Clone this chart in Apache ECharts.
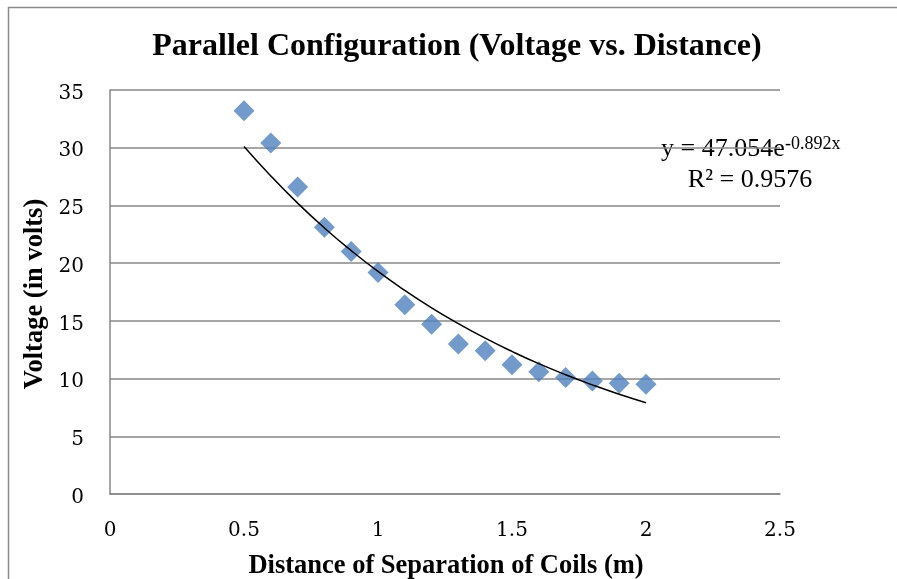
<!DOCTYPE html>
<html>
<head>
<meta charset="utf-8">
<script src="https://cdn.jsdelivr.net/npm/echarts@6/dist/echarts.min.js"></script>
<style>html,body{margin:0;padding:0;background:#fff;}#c{width:897px;height:579px;}</style>
</head>
<body>
<div id="c"></div>
<script>
// Measured data (distance m, voltage V)
var distances = [0.5,0.6,0.7,0.8,0.9,1.0,1.1,1.2,1.3,1.4,1.5,1.6,1.7,1.8,1.9,2.0];
var voltages  = [33.2,30.4,26.6,23.1,21.0,19.2,16.4,14.7,13.0,12.4,11.2,10.6,10.1,9.8,9.6,9.5];
// Trendline values (exponential fit curve)
var trendX = [0.5,0.6,0.7,0.8,0.9,1.0,1.1,1.2,1.3,1.4,1.5,1.6,1.7,1.8,1.9,2.0];
var trendY = [30.1,27.55,25.2,23.05,21.09,19.28,17.64,16.13,14.76,13.5,12.35,11.29,10.33,9.45,8.64,7.91];
var xTicks = [0,0.5,1,1.5,2,2.5];
var yTicks = [0,5,10,15,20,25,30,35];
var titleText = 'Parallel Configuration (Voltage vs. Distance)';
var xName = 'Distance of Separation of Coils (m)';
var yName = 'Voltage (in volts)';
var eqMain = 'y = 47.054e';
var eqSup = '-0.892x';
var r2Text = 'R² = 0.9576';

var serif = '"Liberation Serif","Times New Roman",serif';
var tickFont = '"DejaVu Serif",serif';
var gridColor = '#878787';
var chart = echarts.init(document.getElementById('c'));
chart.setOption({
  animation: false,
  backgroundColor: '#fff',
  grid: {left: 110, top: 90, right: 117, bottom: 85, containLabel: false},
  xAxis: {
    type: 'value', min: xTicks[0], max: xTicks[xTicks.length-1], interval: 0.5,
    axisLine: {show: true, lineStyle: {color: gridColor, width: 1.5}},
    axisTick: {show: false},
    splitLine: {show: false},
    axisLabel: {fontFamily: tickFont, fontSize: 20, color: '#000', margin: 27,
      formatter: function(v){ return String(v); }}
  },
  yAxis: {
    type: 'value', min: yTicks[0], max: yTicks[yTicks.length-1], interval: 5,
    axisLine: {show: true, lineStyle: {color: gridColor, width: 1.5}},
    axisTick: {show: false},
    splitLine: {show: true, lineStyle: {color: gridColor, width: 1.5}},
    axisLabel: {color: '#000', margin: 26,
      formatter: function(v){ return '{t|' + v + '}'; },
      rich: {t: {fontFamily: tickFont, fontSize: 20, color: '#000', padding: [7, 0, 0, 0]}}}
  },
  series: [
    {
      type: 'scatter', symbol: 'diamond', symbolSize: 21,
      itemStyle: {color: '#4F81BD'},
      data: distances.map(function(d,i){ return [d, voltages[i]]; }),
      z: 3
    },
    {
      type: 'line', smooth: true, showSymbol: false, symbol: 'none',
      lineStyle: {color: '#000', width: 1.5},
      data: trendX.map(function(d,i){ return [d, trendY[i]]; }),
      z: 4
    }
  ],
  graphic: [
    {type: 'rect', shape: {x: 8.5, y: 7.5, width: 1000, height: 1000},
     style: {fill: 'none', stroke: '#8a8a8a', lineWidth: 1.5}, silent: true, z: 0},
    {type: 'text', x: 457, y: 47, style: {text: titleText, font: 'bold 32px ' + serif, fill: '#000', align: 'center', verticalAlign: 'middle'}},
    {type: 'text', x: 446, y: 566, style: {text: xName, font: 'bold 26.5px ' + serif, fill: '#000', align: 'center', verticalAlign: 'middle'}},
    {type: 'text', x: 35, y: 294, rotation: Math.PI/2, style: {text: yName, font: 'bold 26.5px ' + serif, fill: '#000', align: 'center', verticalAlign: 'middle'}},
    {type: 'text', x: 661, y: 149, style: {text: eqMain, font: '26px ' + serif, fill: '#000', align: 'left', verticalAlign: 'middle'}},
    {type: 'text', x: 785, y: 144, style: {text: eqSup, font: '18px ' + serif, fill: '#000', align: 'left', verticalAlign: 'middle'}},
    {type: 'text', x: 750, y: 180, style: {text: r2Text, font: '26px ' + serif, fill: '#000', align: 'center', verticalAlign: 'middle'}}
  ]
});
</script>
</body>
</html>
